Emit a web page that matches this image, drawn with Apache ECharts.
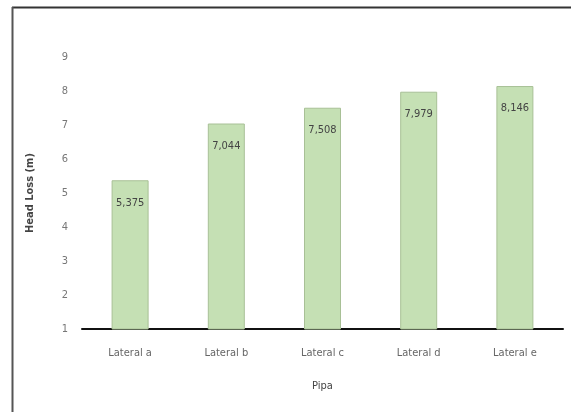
<!DOCTYPE html>
<html>
<head>
<meta charset="utf-8">
<script src="https://cdn.jsdelivr.net/npm/echarts@6/dist/echarts.min.js"></script>
<style>
html,body{margin:0;padding:0;background:#fff;}
#chart{width:571px;height:412px;}
</style>
</head>
<body>
<div id="chart"></div>
<script>
const categories = ['Lateral a', 'Lateral b', 'Lateral c', 'Lateral d', 'Lateral e'];
const headLoss = [5.375, 7.044, 7.508, 7.979, 8.146];
const yTicks = [1, 2, 3, 4, 5, 6, 7, 8, 9];

const FONT = '"Liberation Sans Narrow", "DejaVu Sans Condensed", "Liberation Sans", sans-serif';
const chart = echarts.init(document.getElementById('chart'), null, {renderer: 'canvas'});
chart.setOption({
  backgroundColor: '#ffffff',
  animation: false,
  graphic: [
    {type: 'line', shape: {x1: 12, y1: 7.5, x2: 571, y2: 7.5}, style: {stroke: '#333', lineWidth: 2}},
    {type: 'line', shape: {x1: 12.5, y1: 7, x2: 12.5, y2: 412}, style: {stroke: '#555', lineWidth: 2}}
  ],
  grid: {left: 82, right: 8, top: 57, bottom: 83},
  xAxis: {
    type: 'category',
    data: categories,
    name: 'Pipa',
    nameLocation: 'middle',
    nameGap: 52,
    nameTextStyle: {color: '#444', fontSize: 11, fontFamily: FONT},
    axisLine: {lineStyle: {color: '#111', width: 2}},
    axisTick: {show: false},
    axisLabel: {color: '#666', fontSize: 11, fontFamily: FONT, margin: 19}
  },
  yAxis: {
    type: 'value',
    min: yTicks[0],
    max: yTicks[yTicks.length - 1],
    interval: 1,
    name: 'Head Loss (m)',
    nameLocation: 'middle',
    nameGap: 46,
    nameTextStyle: {color: '#444', fontSize: 11, fontFamily: FONT, fontWeight: 'bold'},
    axisLine: {show: false},
    axisTick: {show: false},
    splitLine: {show: false},
    axisLabel: {color: '#777', fontSize: 11, fontFamily: FONT, margin: 14}
  },
  series: [{
    type: 'bar',
    data: headLoss,
    barWidth: 37,
    itemStyle: {color: '#c5e0b4', borderColor: '#a8c096', borderWidth: 1},
    label: {
      show: true,
      position: 'insideTop',
      distance: 17,
      color: '#444',
      fontSize: 11,
      fontFamily: FONT,
      formatter: p => p.value.toFixed(3).replace('.', ',')
    }
  }]
});
</script>
</body>
</html>
